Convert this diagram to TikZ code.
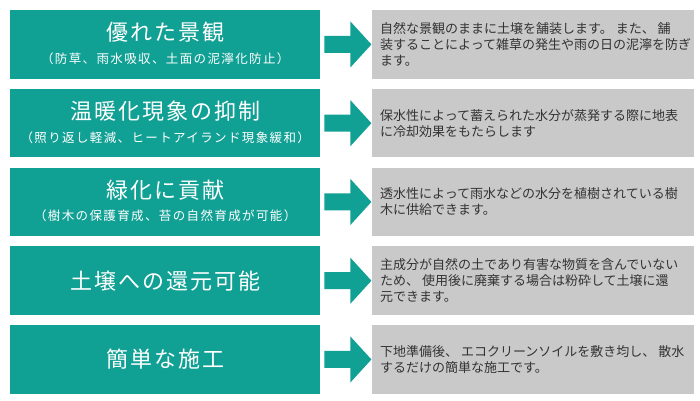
\documentclass[tikz,border=0pt]{standalone}
\usepackage{fontspec}
\newfontfamily\jpt[LetterSpace=9]{Noto Sans CJK JP}
\newfontfamily\jps[LetterSpace=11]{Noto Sans CJK JP}
\newfontfamily\jpb{Noto Sans CJK JP}
\usetikzlibrary{calc}
\definecolor{tealbox}{RGB}{17,160,148}
\definecolor{graybox}{RGB}{201,201,201}
\definecolor{bodytext}{RGB}{51,51,51}
\begin{document}
\begin{tikzpicture}[x=1pt,y=-1pt,
  leftbox/.style={fill=tealbox,minimum width=310pt,minimum height=68.5pt,anchor=north west,inner sep=0pt,draw=none},
  rightbox/.style={fill=graybox,minimum width=322pt,minimum height=68.5pt,anchor=north west,inner sep=0pt,draw=none},
  ttl/.style={text=white,font=\jpt\fontsize{22}{24}\selectfont,inner sep=0pt},
  subttl/.style={text=white,font=\jps\fontsize{12.5}{14}\selectfont,inner sep=0pt},
  body/.style={text=bodytext,font=\jpb\fontsize{13}{16}\selectfont,align=left,anchor=west,inner sep=0pt},
  bigarrow/.style={fill=tealbox,draw=none}]
\useasboundingbox (0,0) rectangle (700,400);
\fill[white] (0,0) rectangle (700,400);
\foreach \i/\t in {1/10,2/88.75,3/167.5,4/246.25,5/325}{
  \node[leftbox] (L\i) at (10,\t) {};
  \node[rightbox] (R\i) at (372,\t) {};
  \fill[bigarrow] ($(L\i.east)+(4,-8.5)$) -- ++(26,0) -- ++(0,-14.5) -- ++(21,23) -- ++(-21,23) -- ++(0,-14.5) -- ++(-26,0) -- cycle;
}
\node[ttl] (T1) at ($(L1.north)+(0,22.5)$) {優れた景観};
\node[subttl] (S1) at ($(L1.north)+(0,48.7)$) {（防草、雨水吸収、土面の泥濘化防止）};
\node[ttl] (T2) at ($(L2.north)+(0,22.5)$) {温暖化現象の抑制};
\node[subttl] (S2) at ($(L2.north)+(0,48.7)$) {（照り返し軽減、ヒートアイランド現象緩和）};
\node[ttl] (T3) at ($(L3.north)+(0,22.5)$) {緑化に貢献};
\node[subttl] (S3) at ($(L3.north)+(0,48.7)$) {（樹木の保護育成、苔の自然育成が可能）};
\node[ttl] (T4) at (L4.center) {土壌への還元可能};
\node[ttl] (T5) at (L5.center) {簡単な施工};
\node[body] (B1) at ($(R1.west)+(8,0)$) {自然な景観のままに土壌を舗装します。 また、 舗\\装することによって雑草の発生や雨の日の泥濘を防ぎ\\ます。};
\node[body] (B2) at ($(R2.west)+(8,0)$) {保水性によって蓄えられた水分が蒸発する際に地表\\に冷却効果をもたらします};
\node[body] (B3) at ($(R3.west)+(8,0)$) {透水性によって雨水などの水分を植樹されている樹\\木に供給できます。};
\node[body] (B4) at ($(R4.west)+(8,0)$) {主成分が自然の土であり有害な物質を含んでいない\\ため、 使用後に廃棄する場合は粉砕して土壌に還\\元できます。};
\node[body] (B5) at ($(R5.west)+(8,0)$) {下地準備後、 エコクリーンソイルを敷き均し、 散水\\するだけの簡単な施工です。};
\end{tikzpicture}
\end{document}
